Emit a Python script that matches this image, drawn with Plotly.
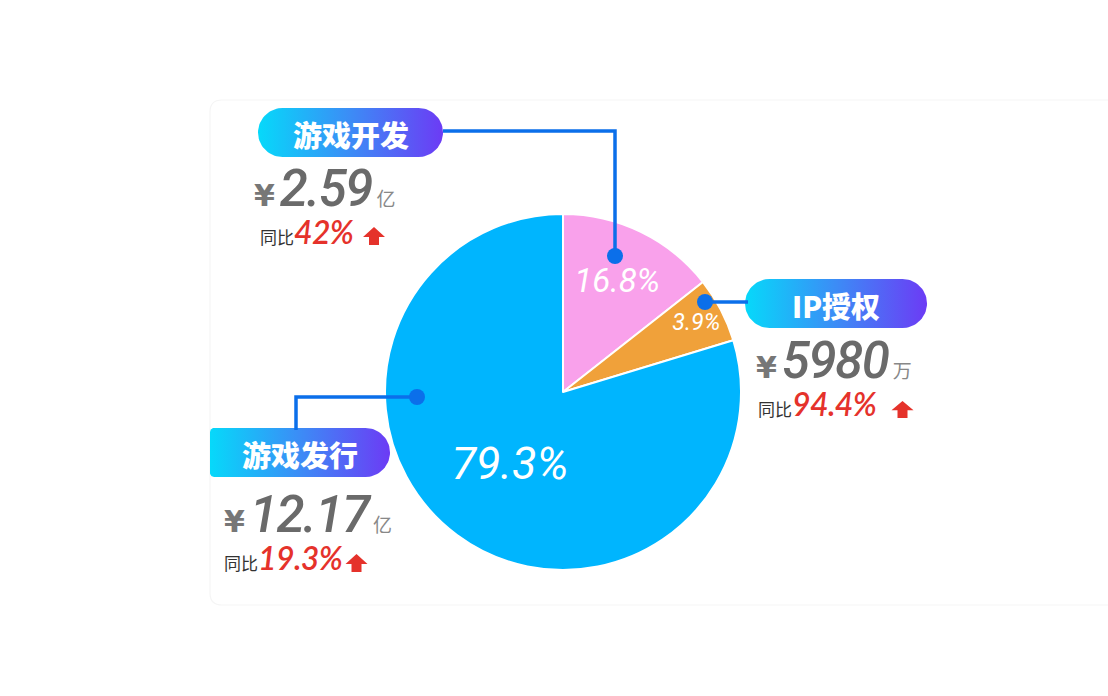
import numpy as np
import plotly.graph_objects as go

# ---------------- data ----------------
segments = ["游戏开发", "IP授权", "游戏发行"]
share_text = ["16.8%", "3.9%", "79.3%"]
slice_share = [14.4, 5.9, 79.7]          # angular share of each slice as drawn
amounts = ["2.59", "5980", "12.17"]
units = ["亿", "万", "亿"]
yoy = ["42%", "94.4%", "19.3%"]
slice_colors = ["#F9A1EB", "#F0A13A", "#00B5FE"]

# ---------------- layout helpers ----------------
W, H = 1108, 696
cx, cy, R = 563, 392, 178
LINE_BLUE = "#0B6FEA"
RED = "#E5322B"
GRAY = "#6A6A6A"
NB = "\u00a0"

fig = go.Figure()

# pie
fig.add_trace(go.Pie(
    values=slice_share, labels=segments, text=share_text, textinfo="text",
    sort=False, direction="clockwise", rotation=0,
    marker=dict(colors=slice_colors, line=dict(color="white", width=2)),
    textposition="inside", insidetextorientation="horizontal",
    insidetextfont=dict(family="Roboto", color="white", size=[33, 27, 45], style="italic"),
    domain=dict(x=[(cx - R) / W, (cx + R) / W], y=[1 - (cy + R) / H, 1 - (cy - R) / H]),
    showlegend=False, hoverinfo="skip",
))


def pill_path(x0, x1, y0, y1, rl=None, rr=None, n=20):
    r = (y1 - y0) / 2
    rl = r if rl is None else rl
    rr = r if rr is None else rr
    xs, ys = [], []
    for (ccx, ccy, rad, a0, a1) in [
        (x1 - rr, y0 + rr, rr, -90, 0),
        (x1 - rr, y1 - rr, rr, 0, 90),
        (x0 + rl, y1 - rl, rl, 90, 180),
        (x0 + rl, y0 + rl, rl, 180, 270),
    ]:
        t = np.radians(np.linspace(a0, a1, n))
        xs += list(ccx + rad * np.cos(t))
        ys += list(ccy + rad * np.sin(t))
    xs.append(xs[0]); ys.append(ys[0])
    return xs, ys


pills = [
    (258, 443, 108, 157, None),
    (745, 927, 279, 328, None),
    (210, 390, 428, 477, 4),
]
for (x0, x1, y0, y1, rl), name in zip(pills, segments):
    xs, ys = pill_path(x0, x1, y0, y1, rl=rl)
    fig.add_trace(go.Scatter(
        x=xs, y=ys, mode="lines", fill="toself", line=dict(width=0, color="rgba(0,0,0,0)"),
        fillgradient=dict(type="horizontal", colorscale=[[0, "#06D9FA"], [0.5, "#3C8CF6"], [1, "#6C3BF5"]]),
        hoverinfo="skip", showlegend=False,
    ))
    fig.add_annotation(x=(x0 + x1) / 2, y=(y0 + y1) / 2 + 1, xref="x", yref="y", text=name,
                       showarrow=False, xanchor="center", yanchor="middle",
                       font=dict(family="Noto Sans CJK SC", size=29, color="white", weight=900))

# up arrows
arrows = [(374, 227, 245), (902.5, 401, 418), (356.5, 554, 572)]
for ax, ytop, ybot in arrows:
    hw, sw = 11, 5
    hy = ytop + (ybot - ytop) * 0.55
    xs = [ax, ax + hw, ax + sw, ax + sw, ax - sw, ax - sw, ax - hw, ax]
    ys = [ytop, hy, hy, ybot, ybot, hy, hy, ytop]
    fig.add_trace(go.Scatter(x=xs, y=ys, mode="lines", fill="toself", fillcolor=RED,
                             line=dict(width=0, color=RED), hoverinfo="skip", showlegend=False))

# value texts (two lines per block: amount, then year-on-year growth)
value_pos = [(252, 245, 6), (754, 417, 2), (222, 571, 0)]
for (vx, yby, indent), amt, u, y in zip(value_pos, amounts, units, yoy):
    line1 = (f'<span style="font-size:30px;color:#777777;font-family:DejaVu Sans;font-weight:700">¥</span>'
             f'<span style="font-size:20px">{NB}</span>'
             f'<span style="font-size:51px;color:{GRAY};font-weight:500;letter-spacing:-1.5px"><i>{amt}</i></span>'
             f'<span style="font-size:18px">{NB}</span>'
             f'<span style="font-size:19px;color:#888888">{u}</span>')
    pad = f'<span style="font-size:{indent * 4}px">{NB}</span>' if indent else ""
    line2 = (pad + f'<span style="font-size:17px;color:#333333">同比</span>'
             f'<span style="font-size:32px;color:{RED};font-family:Lato;font-weight:600;letter-spacing:-0.6px"><i>{y}</i></span>')
    fig.add_annotation(x=vx, y=yby + 8, xref="x", yref="y", text=line1 + "<br>" + line2,
                       showarrow=False, xanchor="left", yanchor="bottom", align="left",
                       font=dict(family="Roboto, Noto Sans CJK SC", size=29.5, color=GRAY))

shapes = []
# faint card
shapes.append(dict(type="path", xref="x", yref="y", layer="below",
                   path="M 1130 100 L 222 100 Q 210 100 210 112 L 210 593 Q 210 605 222 605 L 1130 605",
                   line=dict(color="#F5F5F5", width=1.2), fillcolor="white"))
# leader lines
shapes.append(dict(type="path", xref="x", yref="y", path="M 615 256 L 615 131 L 443 131",
                   line=dict(color=LINE_BLUE, width=3.5)))
shapes.append(dict(type="path", xref="x", yref="y", path="M 705 302 L 748 302",
                   line=dict(color=LINE_BLUE, width=3.5)))
shapes.append(dict(type="path", xref="x", yref="y", path="M 417 397 L 296 397 L 296 430",
                   line=dict(color=LINE_BLUE, width=3.5)))
for dx, dy in [(615, 256), (705, 302), (417, 397)]:
    shapes.append(dict(type="circle", xref="x", yref="y", x0=dx - 8, x1=dx + 8, y0=dy - 8, y1=dy + 8,
                       fillcolor=LINE_BLUE, line=dict(width=0)))

fig.update_layout(
    width=W, height=H, margin=dict(l=0, r=0, t=0, b=0),
    paper_bgcolor="white", plot_bgcolor="rgba(0,0,0,0)",
    xaxis=dict(range=[0, W], visible=False, fixedrange=True, domain=[0, 1]),
    yaxis=dict(range=[H, 0], visible=False, fixedrange=True, domain=[0, 1]),
    shapes=shapes, showlegend=False,
)

fig.write_html("out.html", config={"displayModeBar": False},
               post_script="document.body.style.margin='0px';")
